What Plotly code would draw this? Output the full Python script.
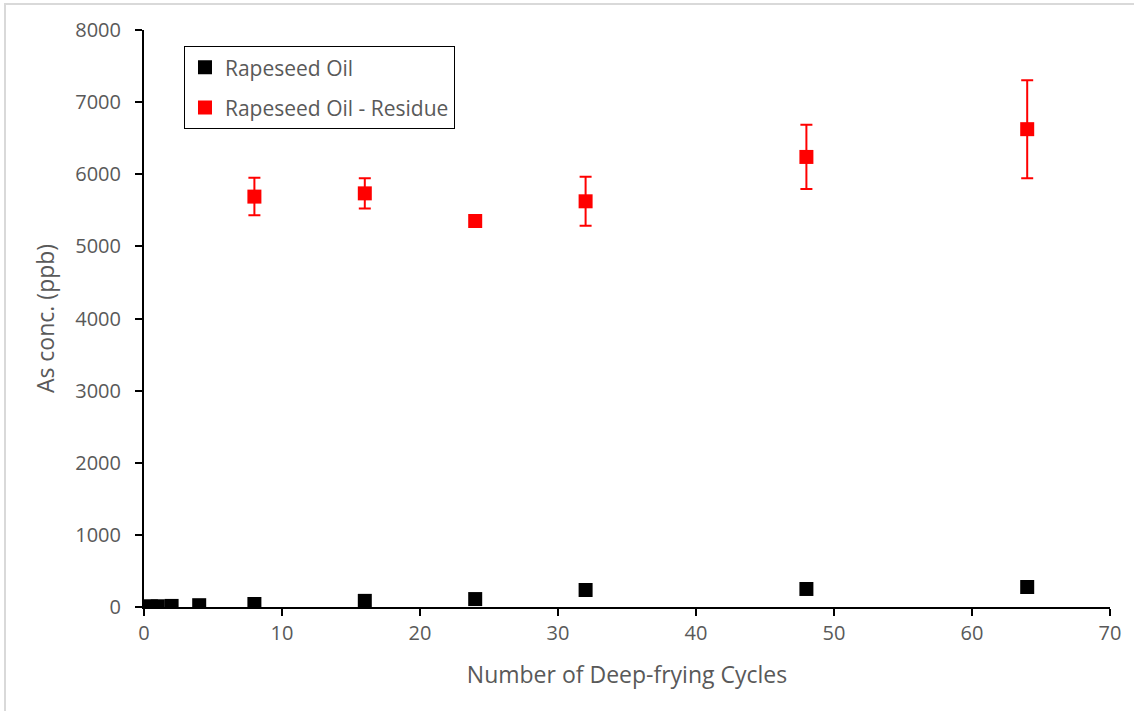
import plotly.graph_objects as go

# Number of deep-frying cycles
oil_cycles = [0, 0.5, 1, 2, 4, 8, 16, 24, 32, 48, 64]
# Arsenic concentration in rapeseed oil (ppb)
oil_conc = [5, 8, 10, 15, 25, 42, 85, 110, 236, 250, 277]

residue_cycles = [8, 16, 24, 32, 48, 64]
# Arsenic concentration in oil residue (ppb) and its error
residue_conc = [5690, 5735, 5352, 5625, 6240, 6625]
residue_err = [260, 210, 0, 340, 445, 680]

x_ticks = [0, 10, 20, 30, 40, 50, 60, 70]
y_ticks = [0, 1000, 2000, 3000, 4000, 5000, 6000, 7000, 8000]

FONT = "Open Sans"
TXT = "#595959"

fig = go.Figure()
fig.add_trace(go.Scatter(
    x=oil_cycles, y=oil_conc, mode="markers", name="Rapeseed Oil",
    legendgroup="a",
    marker=dict(symbol="square", size=14, color="black"),
))
fig.add_trace(go.Scatter(
    x=residue_cycles, y=residue_conc, mode="markers",
    name="Rapeseed Oil - Residue", legendgroup="b",
    marker=dict(symbol="square", size=14, color="#ff0000"),
    error_y=dict(type="data", array=residue_err, color="#ff0000",
                 thickness=2, width=6),
))

fig.update_layout(
    width=1134, height=711,
    margin=dict(l=144, r=24, t=30, b=104),
    paper_bgcolor="white", plot_bgcolor="white",
    font=dict(family=FONT, size=20, color=TXT),
    showlegend=True,
    legend=dict(
        x=0.0414, y=0.972, xanchor="left", yanchor="top",
        bordercolor="black", borderwidth=1, bgcolor="white",
        font=dict(family=FONT, size=21, color=TXT),
        traceorder="grouped", tracegroupgap=10,
        itemwidth=30,
    ),
    xaxis=dict(
        range=[0, 70], tickvals=x_ticks, showgrid=False, zeroline=False,
        showline=True, linecolor="black", linewidth=2,
        ticks="outside", ticklen=7, tickcolor="black", tickwidth=2,
        title=dict(text="Number of Deep-frying Cycles", standoff=22,
                   font=dict(size=23, color=TXT)),
        tickfont=dict(size=20, color=TXT),
    ),
    yaxis=dict(
        range=[0, 8000], tickvals=y_ticks, showgrid=False, zeroline=False,
        showline=True, linecolor="black", linewidth=2,
        ticks="outside", ticklen=7, tickcolor="black", tickwidth=2,
        ticklabelstandoff=10,
        title=dict(text="As conc. (ppb)", standoff=14,
                   font=dict(size=23, color=TXT)),
        tickfont=dict(size=20, color=TXT),
    ),
    shapes=[dict(
        type="rect", xref="paper", yref="paper",
        x0=(5 - 144) / 966, x1=(1140 - 144) / 966,
        y0=(607 - 716) / 577, y1=(607 - 4) / 577,
        line=dict(color="#d9d9d9", width=2), layer="below",
    )],
)

fig.write_html("out.html")
